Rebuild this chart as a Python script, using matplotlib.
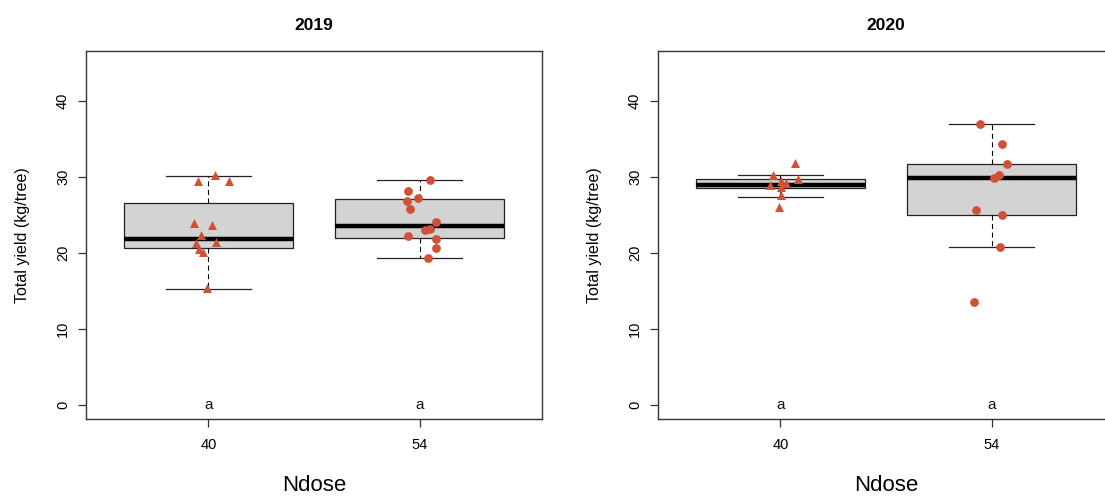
import matplotlib
matplotlib.use("Agg")
import matplotlib.pyplot as plt

plt.rcParams['font.family'] = ['Liberation Sans', 'DejaVu Sans']

# ---- data ----
years = ["2019", "2020"]
ndose = ["40", "54"]
letters = ["a", "a"]

# box statistics per year, per dose: [40, 54]
q1_2019 = [20.66, 22.0]
med_2019 = [21.8, 23.6]
q3_2019 = [26.6, 27.1]
wlo_2019 = [15.2, 19.3]
whi_2019 = [30.1, 29.6]

q1_2020 = [28.6, 25.0]
med_2020 = [28.9, 29.9]
q3_2020 = [29.7, 31.7]
wlo_2020 = [27.4, 20.8]
whi_2020 = [30.3, 36.9]

# individual observations (triangles for 40, circles for 54)
y2019_40 = [29.5, 30.3, 29.5, 24.0, 23.7, 22.4, 21.3, 21.4, 20.5, 20.1, 15.4]
jit2019_40 = [-0.051, 0.031, 0.096, -0.070, 0.017, -0.035, -0.059, 0.034, -0.045, -0.027, -0.008]
y2019_54 = [29.6, 28.2, 27.2, 26.8, 25.8, 24.1, 23.2, 23.0, 22.2, 21.8, 20.6, 19.3]
jit2019_54 = [0.049, -0.054, -0.009, -0.060, -0.046, 0.077, 0.049, 0.027, -0.054, 0.077, 0.077, 0.041]

y2020_40 = [31.8, 30.3, 29.7, 29.5, 28.9, 29.2, 28.7, 27.6, 26.1]
jit2020_40 = [0.068, -0.034, 0.083, 0.001, -0.049, 0.027, 0.001, 0.001, -0.008]
y2020_54 = [36.9, 34.3, 31.7, 30.3, 29.8, 25.7, 25.0, 20.8, 13.5]
jit2020_54 = [-0.053, 0.048, 0.072, 0.036, 0.012, -0.073, 0.048, 0.042, -0.082]

yticks = [0, 10, 20, 30, 40]

# ---- figure ----
W, H = 1105, 496
fig = plt.figure(figsize=(W / 100, H / 100), dpi=100)

pt_color = '#CF5238'

panels = [
    (86, years[0], (q1_2019, med_2019, q3_2019, wlo_2019, whi_2019),
     (y2019_40, jit2019_40), (y2019_54, jit2019_54)),
    (658, years[1], (q1_2020, med_2020, q3_2020, wlo_2020, whi_2020),
     (y2020_40, jit2020_40), (y2020_54, jit2020_54)),
]

top_px, bot_px, width_px = 50.7, 419, 456

for left_px, title, (q1, med, q3, wlo, whi), (ya, ja), (yb, jb) in panels:
    ax = fig.add_axes([left_px / W, (H - bot_px) / H, width_px / W, (bot_px - top_px) / H])
    stats = []
    for i in range(2):
        stats.append(dict(med=med[i], q1=q1[i], q3=q3[i], whislo=wlo[i], whishi=whi[i], fliers=[]))
    ax.bxp(stats, positions=[1, 2], widths=0.8, patch_artist=True, showfliers=False,
           boxprops=dict(facecolor='#D3D3D3', edgecolor='#222222', linewidth=0.9),
           medianprops=dict(color='black', linewidth=3.2, solid_capstyle='butt'),
           whiskerprops=dict(color='black', linewidth=0.8, linestyle=(0, (4.5, 3.2))),
           capprops=dict(color='#222222', linewidth=0.9),
           capwidths=0.4)
    ax.scatter([1 + j for j in ja], ya, marker='^', s=42, color=pt_color, zorder=5, linewidths=0)
    ax.scatter([2 + j for j in jb], yb, marker='o', s=40, color=pt_color, zorder=5, linewidths=0)
    for i, lt in enumerate(letters):
        ax.text(i + 1, 0, lt, ha='center', va='center', fontsize=11, color='#111111')
    ax.set_xlim(0.42, 2.58)
    ax.set_ylim(-1.84, 46.6)
    ax.set_xticks([1, 2])
    ax.set_xticklabels(ndose, fontsize=10.5)
    ax.set_yticks(yticks)
    ax.set_yticklabels([str(t) for t in yticks], fontsize=10.5, rotation=90, va='center')
    ax.tick_params(direction='out', length=5.5, width=0.9, color='#333333', pad=6)
    ax.tick_params(axis='x', pad=8)
    for s in ax.spines.values():
        s.set_linewidth(1.0)
        s.set_color('#333333')
    ax.set_title(title, fontsize=12.5, fontweight='bold', pad=15)
    ax.set_xlabel('Ndose', fontsize=16, labelpad=17)
    ax.set_ylabel('Total yield (kg/tree)', fontsize=11.5, labelpad=19)

fig.savefig('out.png', dpi=100)
